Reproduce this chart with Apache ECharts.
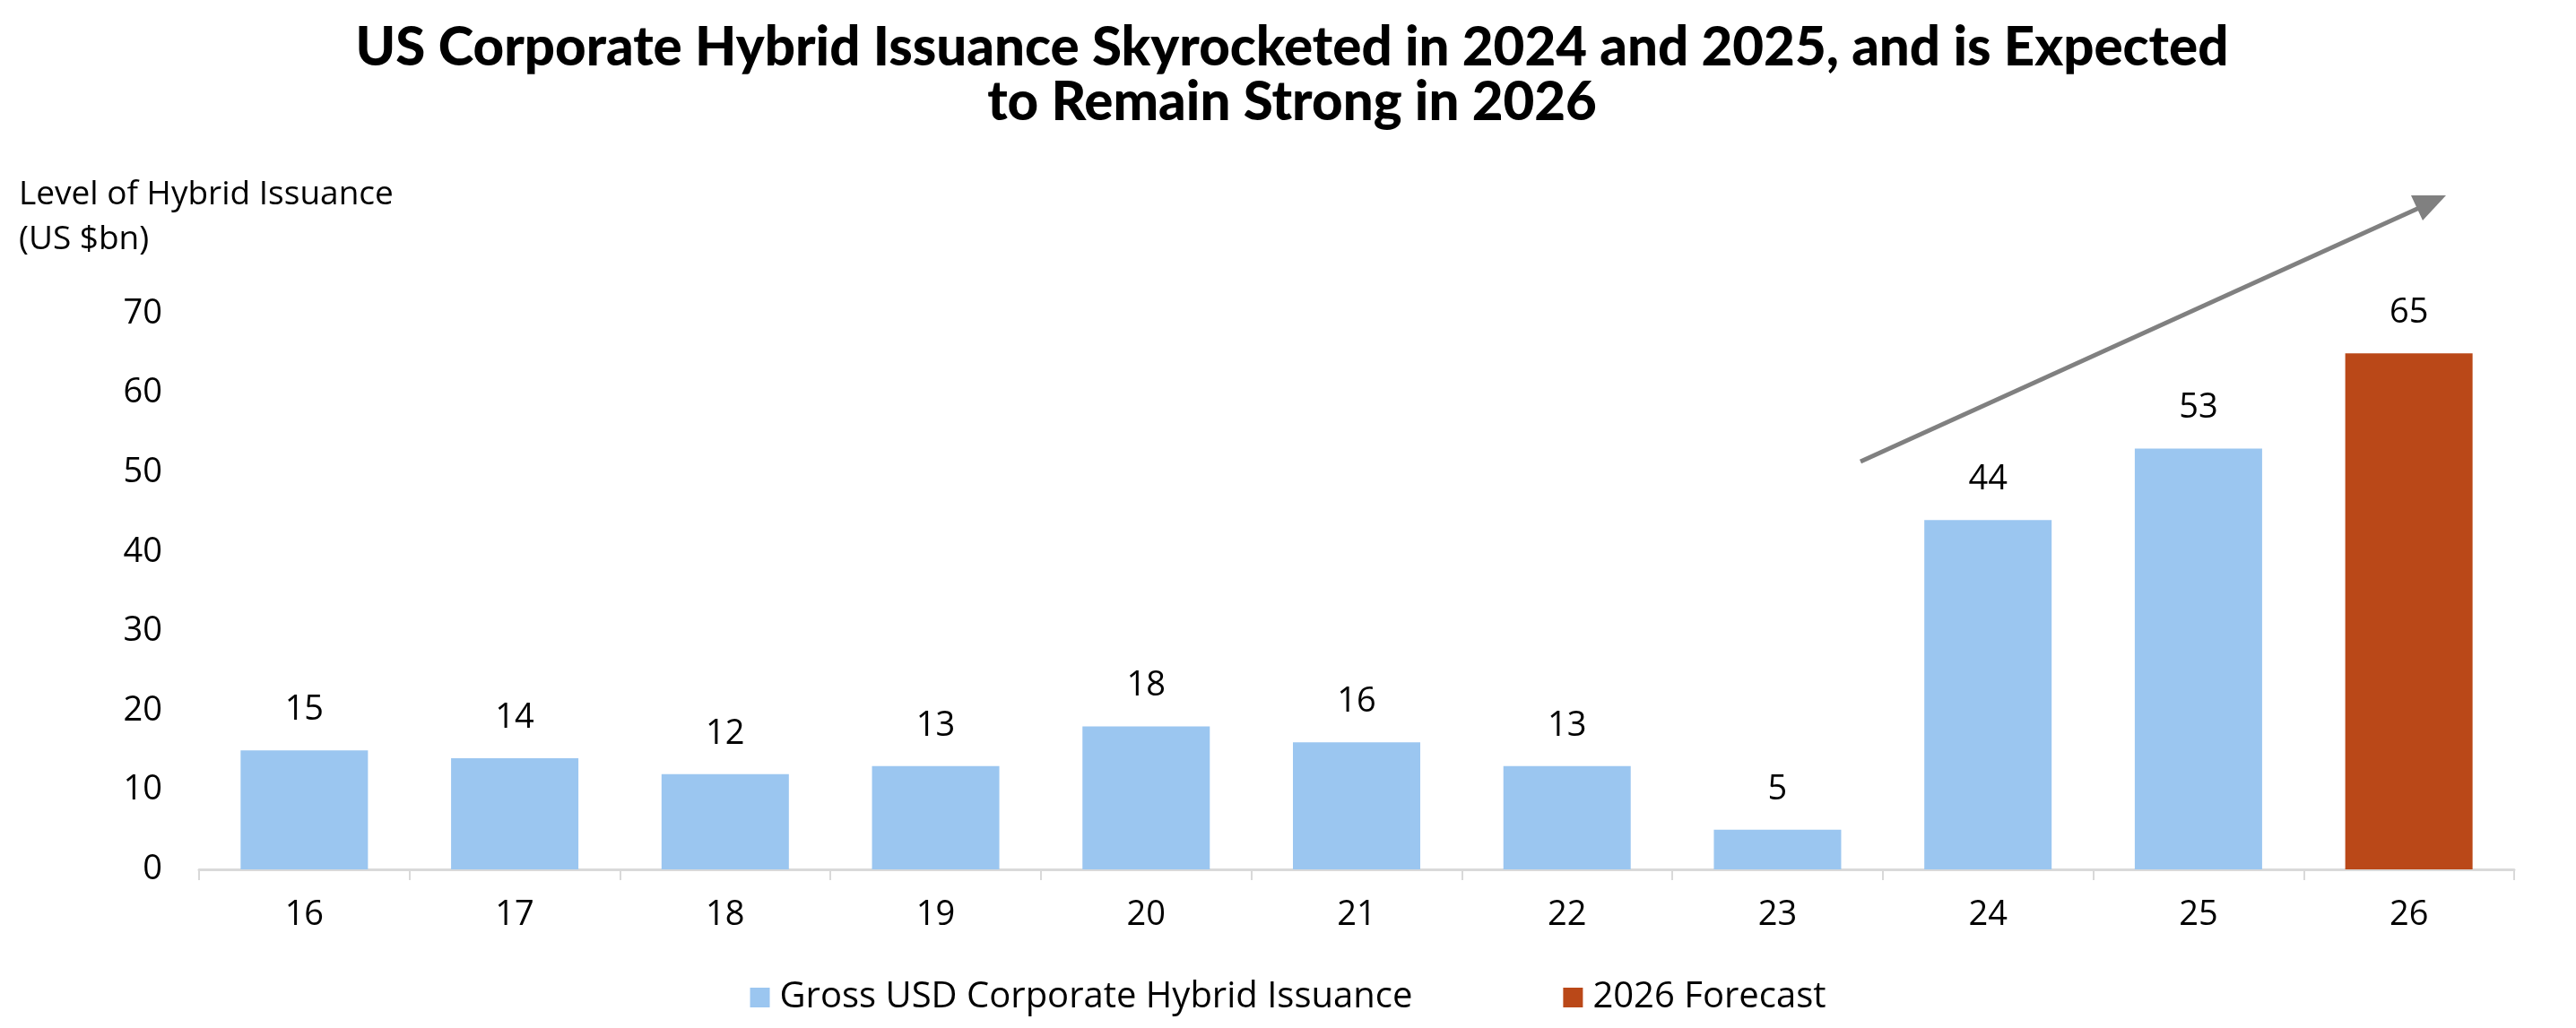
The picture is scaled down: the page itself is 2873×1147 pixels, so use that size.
<!DOCTYPE html>
<html>
<head>
<meta charset="utf-8">
<title>US Corporate Hybrid Issuance</title>
<script src="https://cdn.jsdelivr.net/npm/echarts@6/dist/echarts.min.js"></script>
<style>
	html, body { margin: 0; padding: 0; background: #ffffff; }
	#chart { width: 2873px; height: 1147px; }
</style>
</head>
<body>
<div id="chart"></div>
<script>
// data
var years = ['16', '17', '18', '19', '20', '21', '22', '23', '24', '25', '26'];
var issuance = [15, 14, 12, 13, 18, 16, 13, 5, 44, 53, '-'];
var forecast = ['-', '-', '-', '-', '-', '-', '-', '-', '-', '-', 65];
var yTicks = [0, 70, 10]; // min, max, step

var font = '"Open Sans", Lato, sans-serif';
var titleFont = 'Lato, "Open Sans", sans-serif';

let dom = document.getElementById('chart');
let myChart = echarts.init(dom);

let option = {
	animation: false,
	title: {
		text: 'US Corporate Hybrid Issuance Skyrocketed in 2024 and 2025, and is Expected\nto Remain Strong in 2026',
		left: 1436,
		top: 18,
		textAlign: 'center',
		textStyle: {
			fontFamily: titleFont,
			fontSize: 60,
			fontWeight: 900,
			lineHeight: 61,
			color: '#000000'
		}
	},
	legend: {
		top: 1088,
		left: 'center',
		itemWidth: 22,
		itemHeight: 22,
		itemGap: 168,
		icon: 'rect',
		textStyle: {
			fontFamily: font,
			fontSize: 40,
			color: '#000000',
			padding: [0, 0, 0, 6]
		},
		data: ['Gross USD Corporate Hybrid Issuance', '2026 Forecast']
	},
	grid: {
		left: 222,
		right: 69,
		top: 350,
		bottom: 177
	},
	xAxis: {
		type: 'category',
		data: years,
		axisLine: {
			lineStyle: { color: '#D9D9D9', width: 3 }
		},
		axisTick: {
			show: true,
			length: 12,
			interval: 0,
			lineStyle: { color: '#D9D9D9', width: 2 }
		},
		axisLabel: {
			fontFamily: font,
			fontSize: 38,
			color: '#000000',
			margin: 32
		}
	},
	yAxis: {
		type: 'value',
		min: yTicks[0],
		max: yTicks[1],
		interval: yTicks[2],
		axisLine: { show: false },
		axisTick: { show: false },
		splitLine: { show: false },
		axisLabel: {
			fontFamily: font,
			fontSize: 38,
			color: '#000000',
			margin: 41
		}
	},
	series: [{
			name: 'Gross USD Corporate Hybrid Issuance',
			type: 'bar',
			barWidth: '60.5%',
			barGap: '-100%',
			itemStyle: { color: '#9BC6F0' },
			label: {
				show: true,
				position: 'top',
				distance: 26,
				fontFamily: font,
				fontSize: 38,
				color: '#000000'
			},
			data: issuance
		},
		{
			name: '2026 Forecast',
			type: 'bar',
			barWidth: '60.5%',
			barGap: '-100%',
			itemStyle: { color: '#BA4818' },
			label: {
				show: true,
				position: 'top',
				distance: 26,
				fontFamily: font,
				fontSize: 38,
				color: '#000000'
			},
			data: forecast
		}
	],
	// axis name and the trend arrow
	graphic: [{
			type: 'text',
			left: 21,
			top: 192,
			style: {
				text: 'Level of Hybrid Issuance\n(US $bn)',
				font: '37px ' + font,
				lineHeight: 50,
				fill: '#000000'
			}
		},
		{
			type: 'line',
			shape: { x1: 2075, y1: 515, x2: 2698, y2: 232 },
			style: { stroke: '#808080', lineWidth: 5 }
		},
		{
			type: 'polygon',
			shape: { points: [[2728, 218], [2702, 246], [2689, 218]] },
			style: { fill: '#808080' }
		}
	]
};
myChart.setOption(option);
</script>
</body>
</html>
